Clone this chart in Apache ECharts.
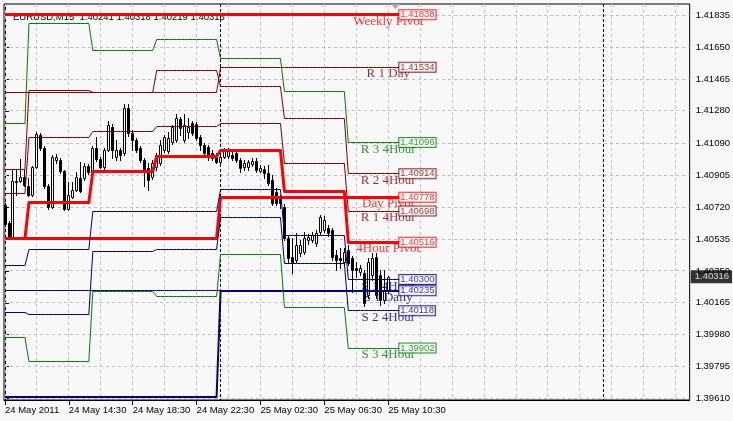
<!DOCTYPE html>
<html><head><meta charset="utf-8">
<script src="https://cdn.jsdelivr.net/npm/echarts@6/dist/echarts.min.js"></script>
<style>html,body{margin:0;padding:0;background:#f8f8f8;}#c{width:733px;height:421px;}</style>
</head><body><div id="c"></div>
<script>
// ---------- data ----------
const symbolName = 'EURUSD,M15';
const xTickBars = [0, 16, 32, 48, 64, 80, 96];
const xTickLabels = ['24 May 2011', '24 May 14:30', '24 May 18:30', '24 May 22:30', '25 May 02:30', '25 May 06:30', '25 May 10:30'];
const yTickValues = [1.39610, 1.39795, 1.39980, 1.40165, 1.40350, 1.40535, 1.40720, 1.40905, 1.41090, 1.41280, 1.41465, 1.41650, 1.41835];
const gridBars = [0, 8, 16, 24, 32, 40, 48, 56, 64, 72, 80, 88, 96, 104, 112, 120, 128, 136, 144, 152, 160, 168];
const daySeparatorBars = [54, 150];

const opens = [
1.40733,1.40629,1.40547,1.40872,1.40872,1.40895,1.40843,1.40791,1.40953,1.41140,
1.41065,1.40843,1.40721,1.40994,1.40994,1.40930,1.40710,1.40779,1.40820,1.40890,
1.40890,1.40959,1.40924,1.41065,1.41001,1.40953,1.41053,1.41186,1.41012,1.41053,
1.41036,1.41297,1.41152,1.41111,1.41065,1.40994,1.40948,1.40895,1.40953,1.40977,
1.41053,1.41047,1.41099,1.41111,1.41233,1.41111,1.41157,1.41209,1.41204,1.41128,
1.41082,1.41070,1.41036,1.41012,1.40983,1.41012,1.41018,1.41024,1.41036,1.40994,
1.40953,1.40953,1.40971,1.40989,1.40930,1.40942,1.40919,1.40878,1.40808,1.40774,
1.40721,1.40542,1.40431,1.40413,1.40454,1.40460,1.40530,1.40530,1.40513,1.40576,
1.40588,1.40599,1.40588,1.40442,1.40425,1.40402,1.40472,1.40425,1.40367,1.40344,
1.40338,1.40210,1.40326,1.40431,1.40326,1.40181,1.40241];
const highs = [
1.40745,1.40640,1.40942,1.40936,1.41001,1.40936,1.40890,1.40959,1.41157,1.41152,
1.41076,1.40855,1.41024,1.41030,1.41007,1.40936,1.40866,1.40866,1.40924,1.40983,
1.40977,1.40971,1.41076,1.41128,1.41012,1.41065,1.41221,1.41204,1.41111,1.41065,
1.41320,1.41320,1.41169,1.41122,1.41076,1.41007,1.40977,1.40994,1.41036,1.41111,
1.41140,1.41157,1.41198,1.41262,1.41244,1.41262,1.41238,1.41221,1.41215,1.41140,
1.41093,1.41082,1.41053,1.41036,1.41053,1.41065,1.41065,1.41041,1.41053,1.41007,
1.40994,1.40994,1.41007,1.41007,1.40965,1.40959,1.40965,1.40907,1.40832,1.40791,
1.40739,1.40553,1.40542,1.40570,1.40530,1.40576,1.40565,1.40576,1.40588,1.40675,
1.40669,1.40617,1.40599,1.40472,1.40484,1.40484,1.40501,1.40437,1.40402,1.40384,
1.40355,1.40425,1.40454,1.40454,1.40355,1.40355,1.40318];
const lows = [
1.40611,1.40536,1.40542,1.40791,1.40866,1.40843,1.40785,1.40785,1.40948,1.41053,
1.40832,1.40710,1.40716,1.40977,1.40919,1.40704,1.40704,1.40774,1.40814,1.40808,
1.40878,1.40913,1.40913,1.40989,1.40948,1.40942,1.41047,1.41007,1.40994,1.40994,
1.41024,1.41134,1.41053,1.41041,1.40983,1.40843,1.40820,1.40884,1.40936,1.40965,
1.41041,1.41036,1.41087,1.41099,1.41140,1.41099,1.41122,1.41140,1.41111,1.41053,
1.41012,1.40994,1.40994,1.40977,1.40965,1.41007,1.41007,1.40994,1.40983,1.40924,
1.40936,1.40936,1.40959,1.40924,1.40924,1.40890,1.40849,1.40733,1.40733,1.40716,
1.40530,1.40396,1.40338,1.40402,1.40437,1.40448,1.40507,1.40518,1.40495,1.40565,
1.40576,1.40553,1.40413,1.40355,1.40367,1.40390,1.40384,1.40228,1.40315,1.40326,
1.40146,1.40193,1.40297,1.40193,1.40152,1.40164,1.40219];
const closes = [
1.40623,1.40547,1.40872,1.40866,1.40895,1.40849,1.40791,1.40953,1.41146,1.41065,
1.40843,1.40721,1.41012,1.41012,1.40930,1.40710,1.40791,1.40820,1.40895,1.40814,
1.40959,1.40924,1.41065,1.41001,1.40953,1.41053,1.41198,1.41053,1.41053,1.41024,
1.41297,1.41152,1.41111,1.41053,1.40994,1.40924,1.40878,1.40977,1.41024,1.41082,
1.41128,1.41122,1.41186,1.41238,1.41180,1.41198,1.41186,1.41152,1.41122,1.41082,
1.41036,1.41012,1.41007,1.40983,1.41012,1.41053,1.41053,1.41007,1.40994,1.40948,
1.40977,1.40983,1.40989,1.40936,1.40948,1.40919,1.40861,1.40745,1.40745,1.40745,
1.40542,1.40425,1.40402,1.40501,1.40501,1.40542,1.40547,1.40559,1.40570,1.40663,
1.40646,1.40570,1.40431,1.40413,1.40413,1.40460,1.40396,1.40355,1.40355,1.40367,
1.40164,1.40402,1.40425,1.40210,1.40181,1.40239,1.40316];

// 4-hour pivot levels (one value per 4h block, starting at these bars)
const segStarts4h = [0, 6, 22, 38, 54, 70, 86];
const pivot4h = [1.40536, 1.40750, 1.40925, 1.41012, 1.41047, 1.40814, 1.40516];
const r1_4h   = [1.40797, 1.41128, 1.41163, 1.41192, 1.41209, 1.40977, 1.40698];
const r2_4h   = [1.40942, 1.41401, 1.41384, 1.41512, 1.41424, 1.41233, 1.40914];
const r3_4h   = [1.41209, 1.41785, 1.41628, 1.41697, 1.41587, 1.41395, 1.41096];
const s1_4h   = [1.40384, 1.40472, 1.40698, 1.40698, 1.40826, 1.40553, 1.40300];
const s2_4h   = [1.40111, 1.40094, 1.40460, 1.40472, 1.40663, 1.40396, 1.40118];
const s3_4h   = [1.39966, 1.39821, 1.40228, 1.40204, 1.40448, 1.40140, 1.39902];
// daily levels
const dayStarts = [0, 54];
const dayPivot = [1.40536, 1.40778];
const r1Day    = [1.41384, 1.41534];
const s1Daily  = [1.39617, 1.40235];
const weeklyPivot = 1.41838;
const s1DailyLine = 1.40235;

// ---------- styles ----------
const RED = '#ff0000', MAROON = '#800000', GREEN = '#008000', NAVY = '#000080';
const SANS = "'Liberation Sans',Arial,sans-serif";
const SERIF = "'Liberation Serif','Times New Roman',serif";
const LINE_END = 99;   // level lines run to this bar slot
const NAME_BAR = 96;
const X_MAX = 171.5;

function expand(starts, vals) {
  const out = [];
  for (let i = 0; i <= LINE_END; i++) {
    let k = 0;
    for (let j = 0; j < starts.length; j++) if (i >= starts[j]) k = j;
    out.push(vals[k]);
  }
  return out;
}
function snap(y, w) { return (w % 2) ? Math.floor(y) + 0.5 : Math.round(y); }

function lineSeries(vals, color, w, z) {
  return {
    type: 'custom', z: z || 4, silent: true,
    data: vals.map((v, i) => [i, v]),
    renderItem(params, api) {
      if (params.dataIndex !== 0) return;
      const pts = vals.map((v, i) => { const p = api.coord([i, v]); return [p[0], snap(p[1], w)]; });
      return { type: 'polyline', shape: { points: pts }, style: { stroke: color, lineWidth: w, fill: null, lineJoin: 'round' } };
    }
  };
}

const levels = [
  { name: 'Weekly Pivot', vals: expand([0], [weeklyPivot]), color: RED, w: 3 },
  { name: 'R 1 Day', vals: expand(dayStarts, r1Day), color: MAROON, w: 1 },
  { name: 'R 3 4Hour', vals: expand(segStarts4h, r3_4h), color: GREEN, w: 1 },
  { name: 'R 2 4Hour', vals: expand(segStarts4h, r2_4h), color: MAROON, w: 1 },
  { name: 'Day Pivot', vals: expand(dayStarts, dayPivot), color: RED, w: 3 },
  { name: 'R 1 4Hour', vals: expand(segStarts4h, r1_4h), color: MAROON, w: 1 },
  { name: '4Hour Pivot', vals: expand(segStarts4h, pivot4h), color: RED, w: 3 },
  { name: 'S 1 4Hour', vals: expand(segStarts4h, s1_4h), color: NAVY, w: 1 },
  { name: 'S 1 Daily', vals: expand(dayStarts, s1Daily), color: NAVY, w: 2 },
  { name: 'S 2 4Hour', vals: expand(segStarts4h, s2_4h), color: NAVY, w: 1 },
  { name: 'S 3 4Hour', vals: expand(segStarts4h, s3_4h), color: GREEN, w: 1 }
];

const last = opens.length - 1;
const header = symbolName + '  ' + [opens[last], highs[last], lows[last], closes[last]].map(v => v.toFixed(5)).join(' ');

const series = [];
// horizontal grid
series.push({
  type: 'custom', z: 1, silent: true, data: yTickValues.map(v => [0, v]),
  renderItem(params, api) {
    const cs = params.coordSys;
    const y = Math.floor(api.coord([0, api.value(1)])[1]) + 0.5;
    return { type: 'line', shape: { x1: cs.x, y1: y, x2: cs.x + cs.width, y2: y }, style: { stroke: '#c0c0c0', lineWidth: 1, lineDash: [3, 3] } };
  }
});
// vertical grid
series.push({
  type: 'custom', z: 1, silent: true, data: gridBars.map(b => [b, 1.40]),
  renderItem(params, api) {
    const cs = params.coordSys;
    const x = Math.floor(api.coord([api.value(0), 1.40])[0] + 0.01) + 0.5;
    return { type: 'line', shape: { x1: x, y1: cs.y, x2: x, y2: cs.y + cs.height }, style: { stroke: '#c0c0c0', lineWidth: 1, lineDash: [3, 3] } };
  }
});
// day separators
series.push({
  type: 'custom', z: 1.5, silent: true, data: daySeparatorBars.map(b => [b, 1.40]),
  renderItem(params, api) {
    const cs = params.coordSys;
    const x = Math.floor(api.coord([api.value(0), 1.40])[0] + 0.01) + 0.5;
    return { type: 'line', shape: { x1: x, y1: cs.y, x2: x, y2: cs.y + cs.height }, style: { stroke: '#000', lineWidth: 1, lineDash: [3, 2] } };
  }
});
// candles
series.push({
  type: 'custom', z: 3, silent: true,
  data: opens.map((o, i) => [i, o, closes[i], lows[i], highs[i]]),
  renderItem(params, api) {
    const i = api.value(0), o = api.value(1), c = api.value(2), l = api.value(3), h = api.value(4);
    const pO = api.coord([i, o]);
    const x = Math.floor(pO[0] + 0.01) + 0.5;
    const yO = pO[1], yC = api.coord([i, c])[1], yL = api.coord([i, l])[1], yH = api.coord([i, h])[1];
    const top = Math.round(Math.min(yO, yC)), bot = Math.round(Math.max(yO, yC));
    const bull = c > o;
    return { type: 'group', children: [
      { type: 'line', shape: { x1: x, y1: Math.round(yH), x2: x, y2: Math.round(yL) + 1 }, style: { stroke: '#000', lineWidth: 1 } },
      { type: 'rect', shape: { x: x - 1, y: top + 0.5, width: 2, height: Math.max(bot - top, 0) }, style: { fill: bull ? '#fff' : '#000', stroke: '#000', lineWidth: 1 } }
    ] };
  }
});
// thin full-width S1 daily line
series.push(lineSeries(expand([0], [s1DailyLine]), NAVY, 1, 4));
// level lines
levels.forEach(L => series.push(lineSeries(L.vals, L.color, L.w, 4)));
// level names
series.push({
  type: 'scatter', z: 8, silent: true, symbolSize: 0.1, itemStyle: { color: 'rgba(0,0,0,0)' },
  data: levels.map(L => ({ value: [NAME_BAR, L.vals[LINE_END]], label: { color: L.color } })),
  label: { show: true, position: 'bottom', distance: 0, formatter: p => levels[p.dataIndex].name, fontFamily: SERIF, fontSize: 13 }
});
// value boxes
series.push({
  type: 'scatter', z: 9, silent: true, symbolSize: 0.1, itemStyle: { color: 'rgba(0,0,0,0)' },
  data: levels.map(L => ({ value: [LINE_END, L.vals[LINE_END]], label: { color: L.color, borderColor: L.color } })),
  label: { show: true, position: 'right', distance: -1, formatter: p => p.value[1].toFixed(5), fontFamily: SANS, fontSize: 9.5, lineHeight: 9, padding: [0, 1, 0, 1], backgroundColor: '#fff', borderWidth: 1 }
});
// current price tag on the price axis
series.push({
  type: 'scatter', z: 10, silent: true, clip: false, symbolSize: 0.1, itemStyle: { color: 'rgba(0,0,0,0)' },
  data: [[X_MAX, closes[last]]],
  label: { show: true, position: 'right', distance: 1, formatter: p => p.value[1].toFixed(5), color: '#fff', backgroundColor: '#000', padding: [2, 3, 1, 4], fontFamily: SANS, fontSize: 9.5 }
});

const chart = echarts.init(document.getElementById('c'), null, { renderer: 'canvas', width: 733, height: 421 });
chart.setOption({
  animation: false,
  backgroundColor: '#f8f8f8',
  title: { text: header, left: 8, top: 7, z: 1, textStyle: { fontFamily: SANS, fontSize: 9.5, fontWeight: 'normal', color: '#000' } },
  grid: { left: 4, top: 4, width: 687, height: 396, show: true, borderColor: '#000', borderWidth: 1, backgroundColor: '#f8f8f8' },
  graphic: [{ type: 'polygon', z: 20, shape: { points: [[391, 4], [400, 4], [395.5, 9]] }, style: { fill: '#a8a8a8' } }],
  xAxis: {
    type: 'value', min: -0.25, max: X_MAX,
    axisLine: { show: true, lineStyle: { color: '#000' } },
    axisTick: { show: true, customValues: xTickBars, length: 5, lineStyle: { color: '#000' } },
    axisLabel: { customValues: xTickBars, formatter: v => xTickLabels[xTickBars.indexOf(Math.round(v))] || '', align: 'left', margin: 5, color: '#000', fontFamily: SANS, fontSize: 9.5, hideOverlap: false },
    splitLine: { show: false }
  },
  yAxis: {
    type: 'value', position: 'right', min: 1.39600, max: 1.41901,
    axisLine: { show: true, lineStyle: { color: '#000' } },
    axisTick: { show: true, customValues: yTickValues, length: 4, lineStyle: { color: '#000' } },
    axisLabel: { customValues: yTickValues, formatter: v => v.toFixed(5), margin: 6, color: '#000', fontFamily: SANS, fontSize: 9.5 },
    splitLine: { show: false }
  },
  series
});
</script></body></html>
